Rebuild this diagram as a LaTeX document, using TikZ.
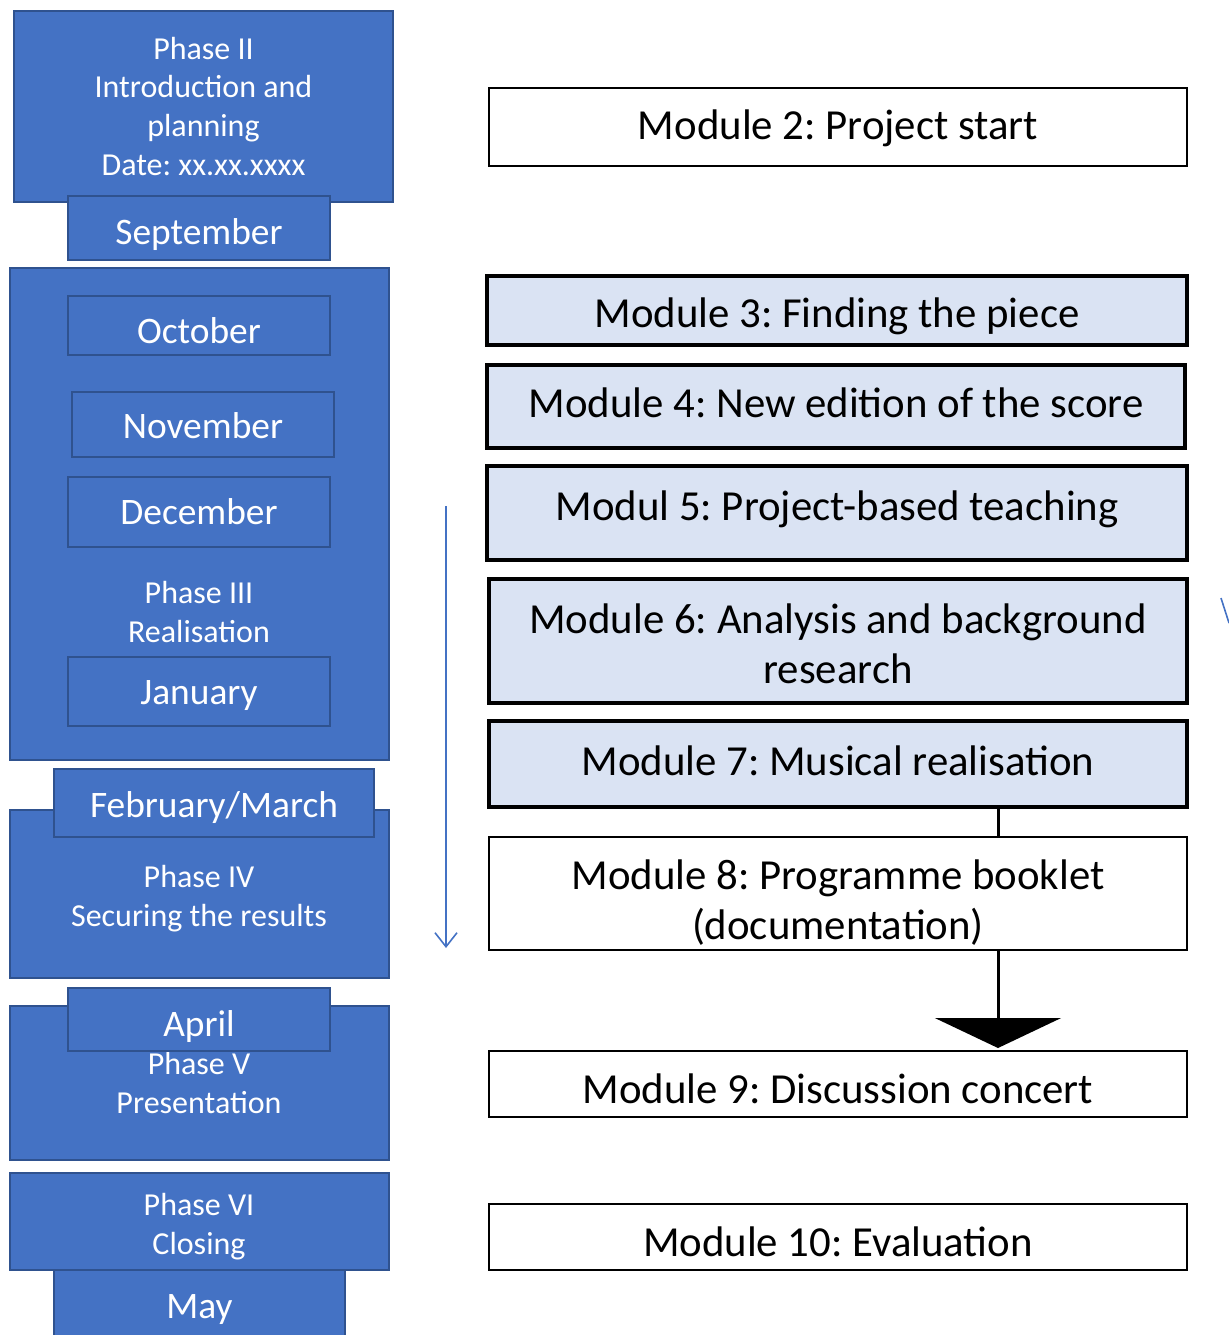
\documentclass[tikz,border=0pt]{standalone}
\usepackage{fontspec}
\setmainfont{Carlito}
\frenchspacing
\usetikzlibrary{arrows.meta}
\definecolor{phaseblue}{HTML}{4472C4}
\definecolor{phaseedge}{HTML}{2F528F}
\definecolor{modfill}{HTML}{DAE3F3}
% empty rectangle node given by its corners in picture units (0.5pt each)
\newcommand\rbox[6]{%
  \node[#1,minimum width={(#5-#3)*0.5pt},minimum height={(#6-#4)*0.5pt}]
    (#2) at ({(#3+#5)/2},{(#4+#6)/2}) {};}
% text whose last line sits on the given baseline
\newcommand\btext[5]{\node[#1,anchor=base] (#2) at (#3,#4) {#5};}
\begin{document}
\begin{tikzpicture}[x=0.5pt,y=-0.5pt,
  base/.style={rectangle,inner sep=0pt,outer sep=0pt,align=center},
  phasebox/.style={base,fill=phaseblue,draw=phaseedge,line width=1pt},
  monthbox/.style={base,fill=phaseblue,draw=phaseedge,line width=1pt},
  modplain/.style={base,fill=white,draw=black,line width=1pt},
  modbold/.style={base,fill=modfill,draw=black,line width=2pt},
  phasetext/.style={base,text=white,font=\fontsize{16}{19.4}\selectfont},
  monthtext/.style={base,text=white,font=\fontsize{18.7}{23}\selectfont},
  modtext/.style={base,text=black,font=\fontsize{21.4}{25}\selectfont},
  timeline/.style={draw=phaseblue,line width=0.8pt,-{Straight Barb[length=7pt,width=11pt]}},
  conn/.style={draw=black,line width=1.5pt},
  bigarrow/.style={draw=black,line width=1.5pt,-{Triangle[length=15pt,width=63pt]}}]
\useasboundingbox (0,0) rectangle (1228,1335);

% ---------- phases and months (left column) ----------
\rbox{phasebox}{p2}{14}{11}{393}{202}
\btext{phasetext}{p2t}{203.5}{175.5}{Phase II\\Introduction and\\planning\\Date: xx.xx.xxxx}
\rbox{monthbox}{sep}{68}{196}{330}{260}
\btext{monthtext}{sept}{199}{244}{September}

\rbox{phasebox}{p3}{10}{268}{389}{760}
\rbox{monthbox}{oct}{68}{296}{330}{355}
\btext{monthtext}{octt}{199}{343}{October}
\rbox{monthbox}{nov}{72}{392}{334}{457}
\btext{monthtext}{novt}{203}{438}{November}
\rbox{monthbox}{dec}{68}{477}{330}{547}
\btext{monthtext}{dect}{199}{524}{December}
\btext{phasetext}{p3t}{199}{642}{Phase III\\Realisation}
\rbox{monthbox}{jan}{68}{657}{330}{726}
\btext{monthtext}{jant}{199}{704}{January}

\rbox{phasebox}{p4}{10}{810}{389}{978}
\btext{phasetext}{p4t}{199}{926}{Phase IV\\Securing the results}
\rbox{monthbox}{feb}{54}{769}{374}{837}
\btext{monthtext}{febt}{214}{817}{February/March}

\rbox{phasebox}{p5}{10}{1006}{389}{1160}
\btext{phasetext}{p5t}{199}{1113}{Phase V\\Presentation}
\rbox{monthbox}{apr}{68}{988}{330}{1051}
\btext{monthtext}{aprt}{199}{1036}{April}

\rbox{phasebox}{p6}{10}{1173}{389}{1270}
\btext{phasetext}{p6t}{199}{1254}{Phase VI\\Closing}
\rbox{monthbox}{may}{54}{1270}{345}{1345}
\btext{monthtext}{mayt}{199.5}{1318}{May}

% ---------- time arrow ----------
\coordinate (tltop) at (446,506);
\coordinate (tlbot) at (446,948);
\draw[timeline] (tltop) -- (tlbot);
\coordinate (edgea) at (1221,598);
\coordinate (edgeb) at (1229,623);
\draw[draw=phaseblue,line width=0.8pt] (edgea) -- (edgeb);

% ---------- modules (right column) ----------
\rbox{modplain}{m2}{489}{88}{1187}{166}
\btext{modtext}{m2t}{838}{139}{Module 2: Project start}
\rbox{modbold}{m3}{487}{276}{1187}{345}
\btext{modtext}{m3t}{837}{327}{Module 3: Finding the piece}
\rbox{modbold}{m4}{487}{365}{1185}{448}
\btext{modtext}{m4t}{836}{417}{Module 4: New edition of the score}
\rbox{modbold}{m5}{487}{466}{1187}{560}
\btext{modtext}{m5t}{837}{520}{Modul 5: Project-based teaching}
\rbox{modbold}{m6}{489}{579}{1187}{703}
\btext{modtext}{m6t}{838}{683}{Module 6: Analysis and background\\research}
\rbox{modbold}{m7}{489}{721}{1187}{807}
\btext{modtext}{m7t}{838}{775}{Module 7: Musical realisation}
\rbox{modplain}{m8}{489}{837}{1187}{950}
\btext{modtext}{m8t}{838}{939}{Module 8: Programme booklet\\(documentation)}
\rbox{modplain}{m9}{489}{1051}{1187}{1117}
\btext{modtext}{m9t}{838}{1103}{Module 9: Discussion concert}
\rbox{modplain}{m10}{489}{1204}{1187}{1270}
\btext{modtext}{m10t}{838}{1256}{Module 10: Evaluation}

% ---------- connectors ----------
\coordinate (cx) at (998,0);
\coordinate (tip) at (998,1048);
\draw[conn] (m7.south -| cx) -- (m8.north -| cx);
\draw[bigarrow] (m8.south -| cx) -- (tip);
\end{tikzpicture}
\end{document}
